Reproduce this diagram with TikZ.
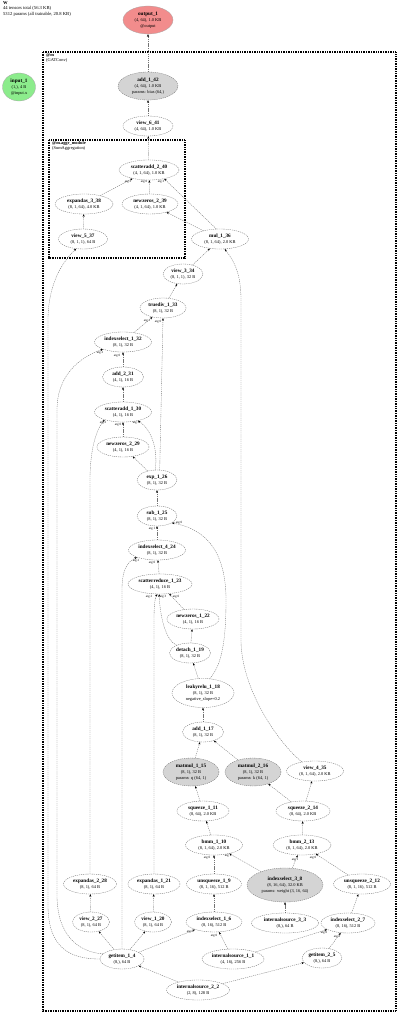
\documentclass[tikz,border=0pt]{standalone}
\usepackage{fontspec}
\setmainfont{Liberation Serif}
\usetikzlibrary{shapes.geometric,arrows.meta}
\newcommand{\nn}[1]{{\fontsize{5.2}{6.2}\selectfont\bfseries #1}}
\definecolor{outred}{RGB}{242,140,140}
\definecolor{ingreen}{RGB}{140,236,140}
\begin{document}
\begin{tikzpicture}[x=1pt,y=-1pt,
 op/.style={ellipse, draw=black!55, line width=0.35pt, dash pattern=on 1.2pt off 0.9pt, inner sep=0pt, minimum height=20pt, align=center, font=\fontsize{4.4}{6.2}\selectfont},
 pr/.style={op, fill=black!17, minimum height=28pt},
 io/.style={ellipse, draw=black!35, line width=0.3pt, inner sep=0pt, minimum height=28pt, align=center, font=\fontsize{4.4}{6.2}\selectfont},
 e/.style={draw=black!55, line width=0.35pt, dash pattern=on 1.2pt off 0.9pt, -{Stealth[length=2.6pt,width=2pt,black]}},
 lb/.style={font=\fontsize{3.2}{3.5}\selectfont, inner sep=0pt},
 box/.style={draw=black, dash pattern=on 1pt off 0.7pt},
 tt/.style={anchor=north west, inner sep=0pt, align=left, font=\fontsize{4.6}{5.6}\selectfont},
]
\useasboundingbox (0,0) rectangle (400,1016);

% title
\node[tt] (title) at (3,1) {{\bfseries W}\\44 tensors total (56.3 KB)\\5312 params (all trainable, 20.8 KB)};

% boxes
\draw[box, line width=1.4pt] (43,52) rectangle (396,1011);
\node[tt, font=\fontsize{4.4}{5.2}\selectfont] (boxlab) at (46,53) {{\bfseries @m}\\(GATConv)};
\draw[box, line width=1.1pt] (49,140) rectangle (185,258);
\node[tt, font=\fontsize{4.4}{5.2}\selectfont] (aggrlab) at (52,141) {{\bfseries @m.aggr\_module}\\(SumAggregation)};

% nodes
\node[io, fill=outred, minimum width=50pt] (output_1) at (148,20) {\nn{output\_1}\\(4, 64), 1.0 KB\\@output};
\node[io, fill=ingreen, minimum width=33pt] (input_1) at (19,87) {\nn{input\_1}\\(1,), 4 B\\@input.x};
\node[pr, minimum width=60pt] (add_1_42) at (148,86) {\nn{add\_1\_42}\\(4, 64), 1.0 KB\\params: bias (64,)};
\node[op, minimum width=50pt] (view_6_41) at (148,126) {\nn{view\_6\_41}\\(4, 64), 1.0 KB};
\node[op, minimum width=60pt] (scatteradd_2_40) at (149,170) {\nn{scatteradd\_2\_40}\\(4, 1, 64), 1.0 KB};
\node[op, minimum width=58pt] (expandas_3_38) at (84,204) {\nn{expandas\_3\_38}\\(8, 1, 64), 4.0 KB};
\node[op, minimum width=56pt] (newzeros_2_39) at (150,204) {\nn{newzeros\_2\_39}\\(4, 1, 64), 1.0 KB};
\node[op, minimum width=49pt] (view_5_37) at (83,239) {\nn{view\_5\_37}\\(8, 1, 1), 64 B};
\node[op, minimum width=57pt] (mul_1_36) at (220,239) {\nn{mul\_1\_36}\\(8, 1, 64), 2.0 KB};
\node[op, minimum width=40pt] (view_3_34) at (183,274) {\nn{view\_3\_34}\\(8, 1, 1), 32 B};
\node[op, minimum width=46pt] (truediv_1_33) at (163,308) {\nn{truediv\_1\_33}\\(8, 1), 32 B};
\node[op, minimum width=57pt] (indexselect_1_32) at (123,342) {\nn{indexselect\_1\_32}\\(8, 1), 32 B};
\node[op, minimum width=41pt] (add_2_31) at (123,377) {\nn{add\_2\_31}\\(4, 1), 16 B};
\node[op, minimum width=57pt] (scatteradd_1_30) at (123,412) {\nn{scatteradd\_1\_30}\\(4, 1), 16 B};
\node[op, minimum width=52pt] (newzeros_2_29) at (123,447) {\nn{newzeros\_2\_29}\\(4, 1), 16 B};
\node[op, minimum width=40pt] (exp_1_26) at (157,480) {\nn{exp\_1\_26}\\(8, 1), 32 B};
\node[op, minimum width=40pt] (sub_1_25) at (157,516) {\nn{sub\_1\_25}\\(8, 1), 32 B};
\node[op, minimum width=57pt] (indexselect_4_24) at (157,550) {\nn{indexselect\_4\_24}\\(8, 1), 32 B};
\node[op, minimum width=64pt] (scatterreduce_1_23) at (160,584) {\nn{scatterreduce\_1\_23}\\(4, 1), 16 B};
\node[op, minimum width=52pt] (newzeros_1_22) at (193,619) {\nn{newzeros\_1\_22}\\(4, 1), 16 B};
\node[op, minimum width=41pt] (detach_1_19) at (190,653) {\nn{detach\_1\_19}\\(8, 1), 32 B};
\node[op, minimum width=62pt, minimum height=29pt] (leakyrelu_1_18) at (203,693) {\nn{leakyrelu\_1\_18}\\(8, 1), 32 B\\negative\_slope=0.2};
\node[op, minimum width=41pt] (add_1_17) at (203,732) {\nn{add\_1\_17}\\(8, 1), 32 B};
\node[pr, minimum width=56pt] (matmul_1_15) at (191,772) {\nn{matmul\_1\_15}\\(8, 1), 32 B\\params: q (64, 1)};
\node[pr, minimum width=56pt] (matmul_2_16) at (253,772) {\nn{matmul\_2\_16}\\(8, 1), 32 B\\params: k (64, 1)};
\node[op, minimum width=57pt] (view_4_35) at (315,771) {\nn{view\_4\_35}\\(8, 1, 64), 2.0 KB};
\node[op, minimum width=52pt] (squeeze_1_11) at (203,811) {\nn{squeeze\_1\_11}\\(8, 64), 2.0 KB};
\node[op, minimum width=54pt] (squeeze_2_14) at (303,811) {\nn{squeeze\_2\_14}\\(8, 64), 2.0 KB};
\node[op, minimum width=57pt] (bmm_1_10) at (214,845) {\nn{bmm\_1\_10}\\(8, 1, 64), 2.0 KB};
\node[op, minimum width=58pt] (bmm_2_13) at (302,845) {\nn{bmm\_2\_13}\\(8, 1, 64), 2.0 KB};
\node[op, minimum width=53pt] (expandas_2_28) at (90,884) {\nn{expandas\_2\_28}\\(8, 1), 64 B};
\node[op, minimum width=52pt] (expandas_1_21) at (154,884) {\nn{expandas\_1\_21}\\(8, 1), 64 B};
\node[op, minimum width=55pt] (unsqueeze_1_9) at (214,884) {\nn{unsqueeze\_1\_9}\\(8, 1, 16), 512 B};
\node[pr, minimum width=76pt, minimum height=34pt] (indexselect_3_8) at (285,885) {\nn{indexselect\_3\_8}\\(8, 16, 64), 32.0 KB\\params: weight (3, 16, 64)};
\node[op, minimum width=57pt] (unsqueeze_2_12) at (362,884) {\nn{unsqueeze\_2\_12}\\(8, 1, 16), 512 B};
\node[op, minimum width=37pt] (view_2_27) at (91,922) {\nn{view\_2\_27}\\(8, 1), 64 B};
\node[op, minimum width=37pt] (view_1_20) at (153,922) {\nn{view\_1\_20}\\(8, 1), 64 B};
\node[op, minimum width=56pt] (indexselect_1_6) at (214,922) {\nn{indexselect\_1\_6}\\(8, 16), 512 B};
\node[op, minimum width=67pt] (internalsource_3_3) at (285,923) {\nn{internalsource\_3\_3}\\(8,), 64 B};
\node[op, minimum width=54pt] (indexselect_2_7) at (348,923) {\nn{indexselect\_2\_7}\\(8, 16), 512 B};
\node[op, minimum width=44pt] (getitem_1_4) at (122,959) {\nn{getitem\_1\_4}\\(8,), 64 B};
\node[op, minimum width=62pt] (internalsource_1_1) at (233,959) {\nn{internalsource\_1\_1}\\(4, 16), 256 B};
\node[op, minimum width=40pt] (getitem_2_5) at (322,958) {\nn{getitem\_2\_5}\\(8,), 64 B};
\node[op, minimum width=63pt] (internalsource_2_2) at (198,990) {\nn{internalsource\_2\_2}\\(2, 8), 128 B};

% straight edges
\draw[e] (add_1_42) -- (output_1);
\draw[e] (view_6_41) -- (add_1_42);
\draw[e] (scatteradd_2_40) -- (view_6_41);
\draw[e] (expandas_3_38) -- (scatteradd_2_40);
\draw[e] (newzeros_2_39) -- (scatteradd_2_40);
\draw[e] (mul_1_36.110) -- (scatteradd_2_40.-30);
\draw[e] (mul_1_36) -- (newzeros_2_39);
\draw[e] (view_5_37) -- (expandas_3_38);
\draw[e] (view_3_34) -- (mul_1_36);
\draw[e] (truediv_1_33) -- (view_3_34);
\draw[e] (indexselect_1_32) -- (truediv_1_33);
\draw[e] (exp_1_26.75) -- (truediv_1_33.south);
\draw[e] (add_2_31) -- (indexselect_1_32);
\draw[e] (scatteradd_1_30) -- (add_2_31);
\draw[e] (newzeros_2_29) -- (scatteradd_1_30);
\draw[e] (exp_1_26) -- (newzeros_2_29);
\draw[e] (exp_1_26.100) .. controls (158,450) and (152,430) .. (scatteradd_1_30.-30);
\draw[e] (sub_1_25) -- (exp_1_26);
\draw[e] (indexselect_4_24) -- (sub_1_25);
\draw[e] (scatterreduce_1_23) -- (indexselect_4_24);
\draw[e] (newzeros_1_22) -- (scatterreduce_1_23);
\draw[e] (detach_1_19) -- (newzeros_1_22);
\draw[e] (detach_1_19.150) .. controls (165,640) and (160,615) .. (scatterreduce_1_23.265);
\draw[e] (leakyrelu_1_18) -- (detach_1_19);
\draw[e] (leakyrelu_1_18.65) .. controls (222,665) and (226,640) .. (226,600) .. controls (226,545) and (200,528) .. (sub_1_25.-25);
\draw[e] (add_1_17) -- (leakyrelu_1_18);
\draw[e] (matmul_1_15) -- (add_1_17);
\draw[e] (matmul_2_16) -- (add_1_17);
\draw[e] (squeeze_1_11) -- (matmul_1_15);
\draw[e] (squeeze_2_14) -- (matmul_2_16);
\draw[e] (squeeze_2_14) -- (view_4_35);
\draw[e] (view_4_35.145) .. controls (280,745) and (241,690) .. (241,640) -- (241,300) .. controls (241,275) and (235,262) .. (mul_1_36.-65);
\draw[e] (bmm_1_10) -- (squeeze_1_11);
\draw[e] (bmm_2_13) -- (squeeze_2_14);
\draw[e] (unsqueeze_1_9) -- (bmm_1_10);
\draw[e] (indexselect_3_8) -- (bmm_1_10);
\draw[e] (indexselect_3_8) -- (bmm_2_13);
\draw[e] (unsqueeze_2_12) -- (bmm_2_13);
\draw[e] (indexselect_1_6) -- (unsqueeze_1_9);
\draw[e] (indexselect_2_7) -- (unsqueeze_2_12);
\draw[e] (internalsource_3_3) -- (indexselect_3_8);
\draw[e] (internalsource_1_1) -- (indexselect_1_6);
\draw[e] (internalsource_1_1) -- (indexselect_2_7);
\draw[e] (getitem_2_5) -- (indexselect_2_7);
\draw[e] (getitem_1_4) -- (indexselect_1_6);
\draw[e] (getitem_1_4) -- (view_2_27);
\draw[e] (getitem_1_4) -- (view_1_20);
\draw[e] (view_2_27) -- (expandas_2_28);
\draw[e] (view_1_20) -- (expandas_1_21);
\draw[e] (internalsource_2_2) -- (getitem_1_4);
\draw[e] (internalsource_2_2) -- (getitem_2_5);

% long edges
\draw[e] (getitem_1_4.west) .. controls (70,959) and (48,948) .. (48,905) -- (48,320) .. controls (48,285) and (62,262) .. (view_5_37.235);
\draw[e] (getitem_1_4.165) .. controls (78,952) and (57,935) .. (57,895) -- (57,410) .. controls (57,375) and (80,357) .. (indexselect_1_32.200);
\draw[e] (getitem_1_4.north) -- (122,590) .. controls (122,570) and (127,562) .. (indexselect_4_24.200);
\draw[e] (expandas_2_28.north) -- (90,480) .. controls (90,450) and (96,430) .. (scatteradd_1_30.203);
\draw[e] (expandas_1_21.north) -- (154,620) .. controls (154,605) and (155,598) .. (scatterreduce_1_23.255);

% edge labels
\node[lb] (l1) at (128,182) {arg 2};
\node[lb] (l2) at (144,182) {arg 0};
\node[lb] (l3) at (161,182) {arg 3};
\node[lb] (l4) at (147,321) {arg 1};
\node[lb] (l5) at (158,322) {arg 0};
\node[lb] (l6) at (100,353) {arg 2};
\node[lb] (l7) at (117,356) {arg 0};
\node[lb] (l8) at (103,423) {arg 2};
\node[lb] (l9) at (118,425) {arg 0};
\node[lb] (l10) at (136,423) {arg 3};
\node[lb] (l11) at (152,529) {arg 1};
\node[lb] (l12) at (179,523) {arg 0};
\node[lb] (l13) at (136,561) {arg 2};
\node[lb] (l14) at (152,563) {arg 0};
\node[lb] (l15) at (149,597) {arg 2};
\node[lb] (l16) at (163,597) {arg 3};
\node[lb] (l17) at (176,597) {arg 0};
\node[lb] (l18) at (207,858) {arg 0};
\node[lb] (l19) at (228,856) {arg 1};
\node[lb] (l20) at (295,860) {arg 1};
\node[lb] (l21) at (313,858) {arg 0};
\node[lb] (l22) at (190,932) {arg 2};
\node[lb] (l23) at (214,936) {arg 0};
\node[lb] (l24) at (324,933) {arg 0};
\node[lb] (l25) at (337,937) {arg 2};
\end{tikzpicture}
\end{document}
